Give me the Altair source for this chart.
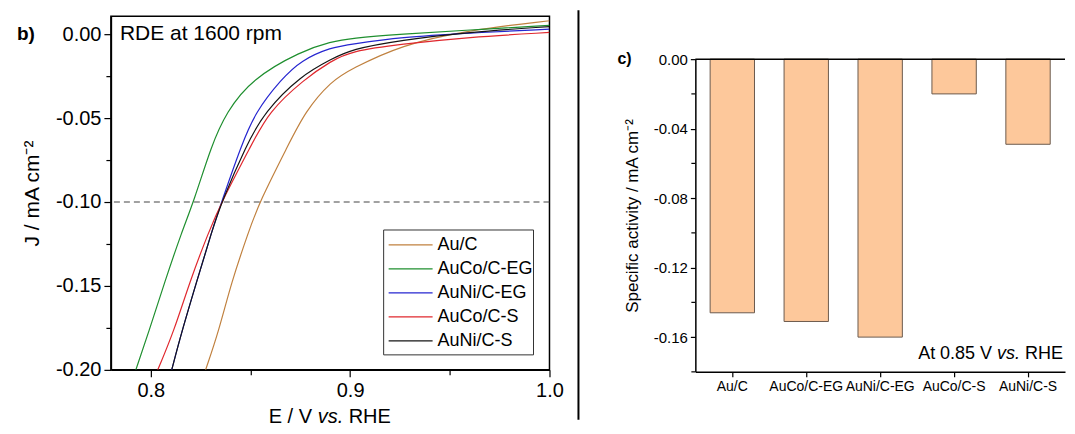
import altair as alt
import pandas as pd

# ---------------- data: panel b (RDE curves) ----------------
series = ["Au/C", "AuCo/C-EG", "AuNi/C-EG", "AuCo/C-S", "AuNi/C-S"]
colors = ["#C0813F", "#1F8F2F", "#2626D0", "#E0282E", "#151515"]

auc_E = [0.8275, 0.834, 0.8405, 0.849, 0.8545, 0.869, 0.8775, 0.8905, 0.9005, 0.9255, 0.959, 1.0]
auc_J = [-0.200, -0.1774, -0.1476, -0.1179, -0.100, -0.066, -0.046, -0.028, -0.0208, -0.0065, 0.0024, 0.008]

aucoeg_E = [0.7925, 0.799, 0.807, 0.8155, 0.8215, 0.8305, 0.838, 0.8505, 0.8755, 0.8905, 0.9005, 0.9255, 0.959, 1.0]
aucoeg_J = [-0.200, -0.1774, -0.1476, -0.1179, -0.100, -0.066, -0.0464, -0.0268, -0.010, -0.0045, -0.0024, 0.0, 0.0024, 0.0052]

aunieg_E = [0.8105, 0.8155, 0.823, 0.8305, 0.8355, 0.8455, 0.8525, 0.8655, 0.8755, 0.8905, 0.9005, 0.9255, 0.959, 1.0]
aunieg_J = [-0.200, -0.1774, -0.1476, -0.1179, -0.100, -0.066, -0.0464, -0.0268, -0.0155, -0.0078, -0.006, -0.0018, 0.0006, 0.003]

aucos_E = [0.8035, 0.8115, 0.8195, 0.829, 0.8355, 0.8505, 0.859, 0.877, 0.8905, 0.9005, 0.9255, 0.959, 1.0]
aucos_J = [-0.200, -0.1774, -0.1476, -0.1179, -0.100, -0.066, -0.0464, -0.0268, -0.016, -0.0101, -0.006, -0.0018, 0.001]

auni_s_E = [0.8105, 0.8155, 0.823, 0.8305, 0.8355, 0.848, 0.857, 0.8755, 0.8905, 0.9005, 0.9255, 0.959, 1.0]
auni_s_J = [-0.200, -0.1774, -0.1476, -0.1179, -0.100, -0.066, -0.0464, -0.0245, -0.015, -0.009, -0.0036, 0.0012, 0.0045]

curves = [(auc_E, auc_J), (aucoeg_E, aucoeg_J), (aunieg_E, aunieg_J), (aucos_E, aucos_J), (auni_s_E, auni_s_J)]

x_ticks_b = [0.8, 0.85, 0.9, 0.95, 1.0]
y_ticks_b = [0.0, -0.025, -0.05, -0.075, -0.1, -0.125, -0.15, -0.175, -0.2]
ref_level = [-0.1]

# ---------------- data: panel c (bars) ----------------
catalysts = ["Au/C", "AuCo/C-EG", "AuNi/C-EG", "AuCo/C-S", "AuNi/C-S"]
activity = [-0.146, -0.151, -0.160, -0.020, -0.049]
y_major_c = [0.0, -0.04, -0.08, -0.12, -0.16]
y_minor_c = [-0.02, -0.06, -0.10, -0.14, -0.18]

rows = []
for (name, (es, js)) in zip(series, curves):
    for i, (e, j) in enumerate(zip(es, js)):
        rows.append({"series": name, "E": e, "J": j, "order": i})
df_b = pd.DataFrame(rows)
df_c = pd.DataFrame({"cat": catalysts, "val": activity})

FONT = "Liberation Sans"
color_scale = alt.Scale(domain=series, range=colors)

W_B, H_B = 439, 354
W_C, H_C = 370, 313
TOP_GAP_C = 43


def one(text):
    return pd.DataFrame({"t": [text]})


# ---------------- panel b ----------------
lines = alt.Chart(df_b).mark_line(strokeWidth=1.2, interpolate="basis", clip=True).encode(
    x=alt.X("E:Q", scale=alt.Scale(domain=[0.78, 1.0], nice=False),
            axis=alt.Axis(values=x_ticks_b, title=None, grid=False,
                          labelExpr="abs(datum.value*10-round(datum.value*10))<0.001 ? format(datum.value,'.1f') : ''",
                          tickSize={"condition": {"test": "abs(datum.value*10-round(datum.value*10))<0.001", "value": 7}, "value": 5},
                          labelFontSize=20, labelPadding=4, labelOverlap=False, labelFlush=False)),
    y=alt.Y("J:Q", scale=alt.Scale(domain=[-0.2, 0.0107], nice=False),
            axis=alt.Axis(values=y_ticks_b, title="J / mA cm⁻²", grid=False,
                          labelExpr="abs(datum.value*20-round(datum.value*20))<0.001 ? replace(format(datum.value,'.2f'),'−','-') : ''",
                          tickSize={"condition": {"test": "abs(datum.value*20-round(datum.value*20))<0.001", "value": 7}, "value": 5},
                          labelFontSize=20, labelPadding=3, labelOverlap=False, labelFlush=False,
                          titleFontSize=21, titleFontWeight="normal", titlePadding=13)),
    color=alt.Color("series:N", scale=color_scale, legend=None),
    order="order:Q",
)

dash = alt.Chart(pd.DataFrame({"y": ref_level})).mark_rule(
    color="#444444", strokeWidth=1.2, strokeDash=[6, 4]).encode(y="y:Q")

rde = alt.Chart(one("RDE at 1600 rpm")).mark_text(
    align="left", baseline="middle", fontSize=21, font=FONT).encode(
    text="t:N", x=alt.value(9), y=alt.value(18))

blabel = alt.Chart(one("b)")).mark_text(
    align="left", baseline="middle", fontSize=19, fontWeight="bold", font=FONT).encode(
    text="t:N", x=alt.value(-94), y=alt.value(18))

xt1 = alt.Chart(one("E / V")).mark_text(align="left", baseline="middle", fontSize=20, font=FONT).encode(
    text="t:N", x=alt.value(158), y=alt.value(401))
xt2 = alt.Chart(one("vs.")).mark_text(align="left", baseline="middle", fontSize=20, font=FONT, fontStyle="italic").encode(
    text="t:N", x=alt.value(207), y=alt.value(401))
xt3 = alt.Chart(one("RHE")).mark_text(align="left", baseline="middle", fontSize=20, font=FONT).encode(
    text="t:N", x=alt.value(238), y=alt.value(401))

legend_box = alt.Chart(one("box")).mark_rect(fill="white", stroke="#333333", strokeWidth=1).encode(
    x=alt.value(273), x2=alt.value(423), y=alt.value(214), y2=alt.value(339))

legend_layers = [legend_box]
for i, name in enumerate(series):
    yy = 229 + 24 * i
    legend_layers.append(
        alt.Chart(pd.DataFrame({"series": [name]})).mark_rule(strokeWidth=1.3).encode(
            x=alt.value(278), x2=alt.value(322), y=alt.value(yy),
            color=alt.Color("series:N", scale=color_scale, legend=None)))
    legend_layers.append(
        alt.Chart(pd.DataFrame({"series": [name]})).mark_text(
            align="left", baseline="middle", fontSize=18, font=FONT).encode(
            text="series:N", x=alt.value(327), y=alt.value(yy)))

divider = alt.Chart(one("div")).mark_rule(color="black", strokeWidth=2).encode(
    x=alt.value(468), y=alt.value(-6), y2=alt.value(404))

left = alt.layer(lines, dash, rde, blabel, xt1, xt2, xt3, *legend_layers, divider).properties(
    width=W_B, height=H_B,
    view=alt.ViewBackground(stroke="black", strokeWidth=1.5))

# ---------------- panel c ----------------
y_scale_c = alt.Scale(domain=[-0.18, 0], nice=False)

bars = alt.Chart(df_c).mark_bar(color="#FDC89B", stroke="#6B5A4D", strokeWidth=1).encode(
    x=alt.X("cat:N", sort=catalysts, scale=alt.Scale(paddingInner=0.4, paddingOuter=0.2),
            axis=alt.Axis(title=None, labelAngle=0, labelFontSize=14, labelPadding=3, tickSize=5,
                          labelOverlap=False, labelFlush=False, labelBound=False)),
    y=alt.Y("val:Q", scale=y_scale_c, stack=None,
            axis=alt.Axis(values=y_major_c, format=".2f",
                          labelExpr="replace(format(datum.value,'.2f'),'−','-')",
                          title="Specific activity / mA cm⁻²", grid=False,
                          tickSize=5, labelFontSize=15, labelPadding=3, labelOverlap=False, labelFlush=False,
                          titleFontSize=17, titleFontWeight="normal", titlePadding=12)),
)

minor_c = alt.Chart(pd.DataFrame({"m": y_minor_c})).mark_rule(color="black", strokeWidth=1.2).encode(
    y=alt.Y("m:Q"), x=alt.value(-4), x2=alt.value(0))

zero_line = alt.Chart(pd.DataFrame({"z": [0.0]})).mark_rule(color="black", strokeWidth=1.5).encode(y="z:Q")

clabel = alt.Chart(one("c)")).mark_text(
    align="left", baseline="middle", fontSize=16, fontWeight="bold", font=FONT).encode(
    text="t:N", x=alt.value(-78), y=alt.value(0))

AT_Y = 295
at1 = alt.Chart(one("At 0.85 V")).mark_text(align="right", baseline="middle", fontSize=18, font=FONT).encode(
    text="t:N", x=alt.value(W_C - 2 - 38 - 5 - 23 - 5), y=alt.value(AT_Y))
at2 = alt.Chart(one("vs.")).mark_text(align="right", baseline="middle", fontSize=18, font=FONT, fontStyle="italic").encode(
    text="t:N", x=alt.value(W_C - 2 - 38 - 5), y=alt.value(AT_Y))
at3 = alt.Chart(one("RHE")).mark_text(align="right", baseline="middle", fontSize=18, font=FONT).encode(
    text="t:N", x=alt.value(W_C - 2), y=alt.value(AT_Y))

right = alt.layer(bars, minor_c, zero_line, clabel, at1, at2, at3).properties(width=W_C, height=H_C)

spacer = alt.Chart(one(" ")).mark_text(opacity=0).encode(
    text="t:N", x=alt.value(0), y=alt.value(0)).properties(width=W_C, height=TOP_GAP_C)

right_col = alt.vconcat(spacer, right, spacing=0, bounds="flush")

chart = alt.hconcat(left, right_col, spacing=146, bounds="flush").properties(
    padding={"left": 8, "top": 0, "right": 0, "bottom": 0}
).configure(font=FONT).configure_view(stroke="transparent").configure_axis(
    domainColor="black", domainWidth=1.5, tickColor="black", tickWidth=1.2,
    labelColor="black", titleColor="black", labelFont=FONT, titleFont=FONT,
)

chart.save("out.html", embed_options={"renderer": "svg", "actions": False})
